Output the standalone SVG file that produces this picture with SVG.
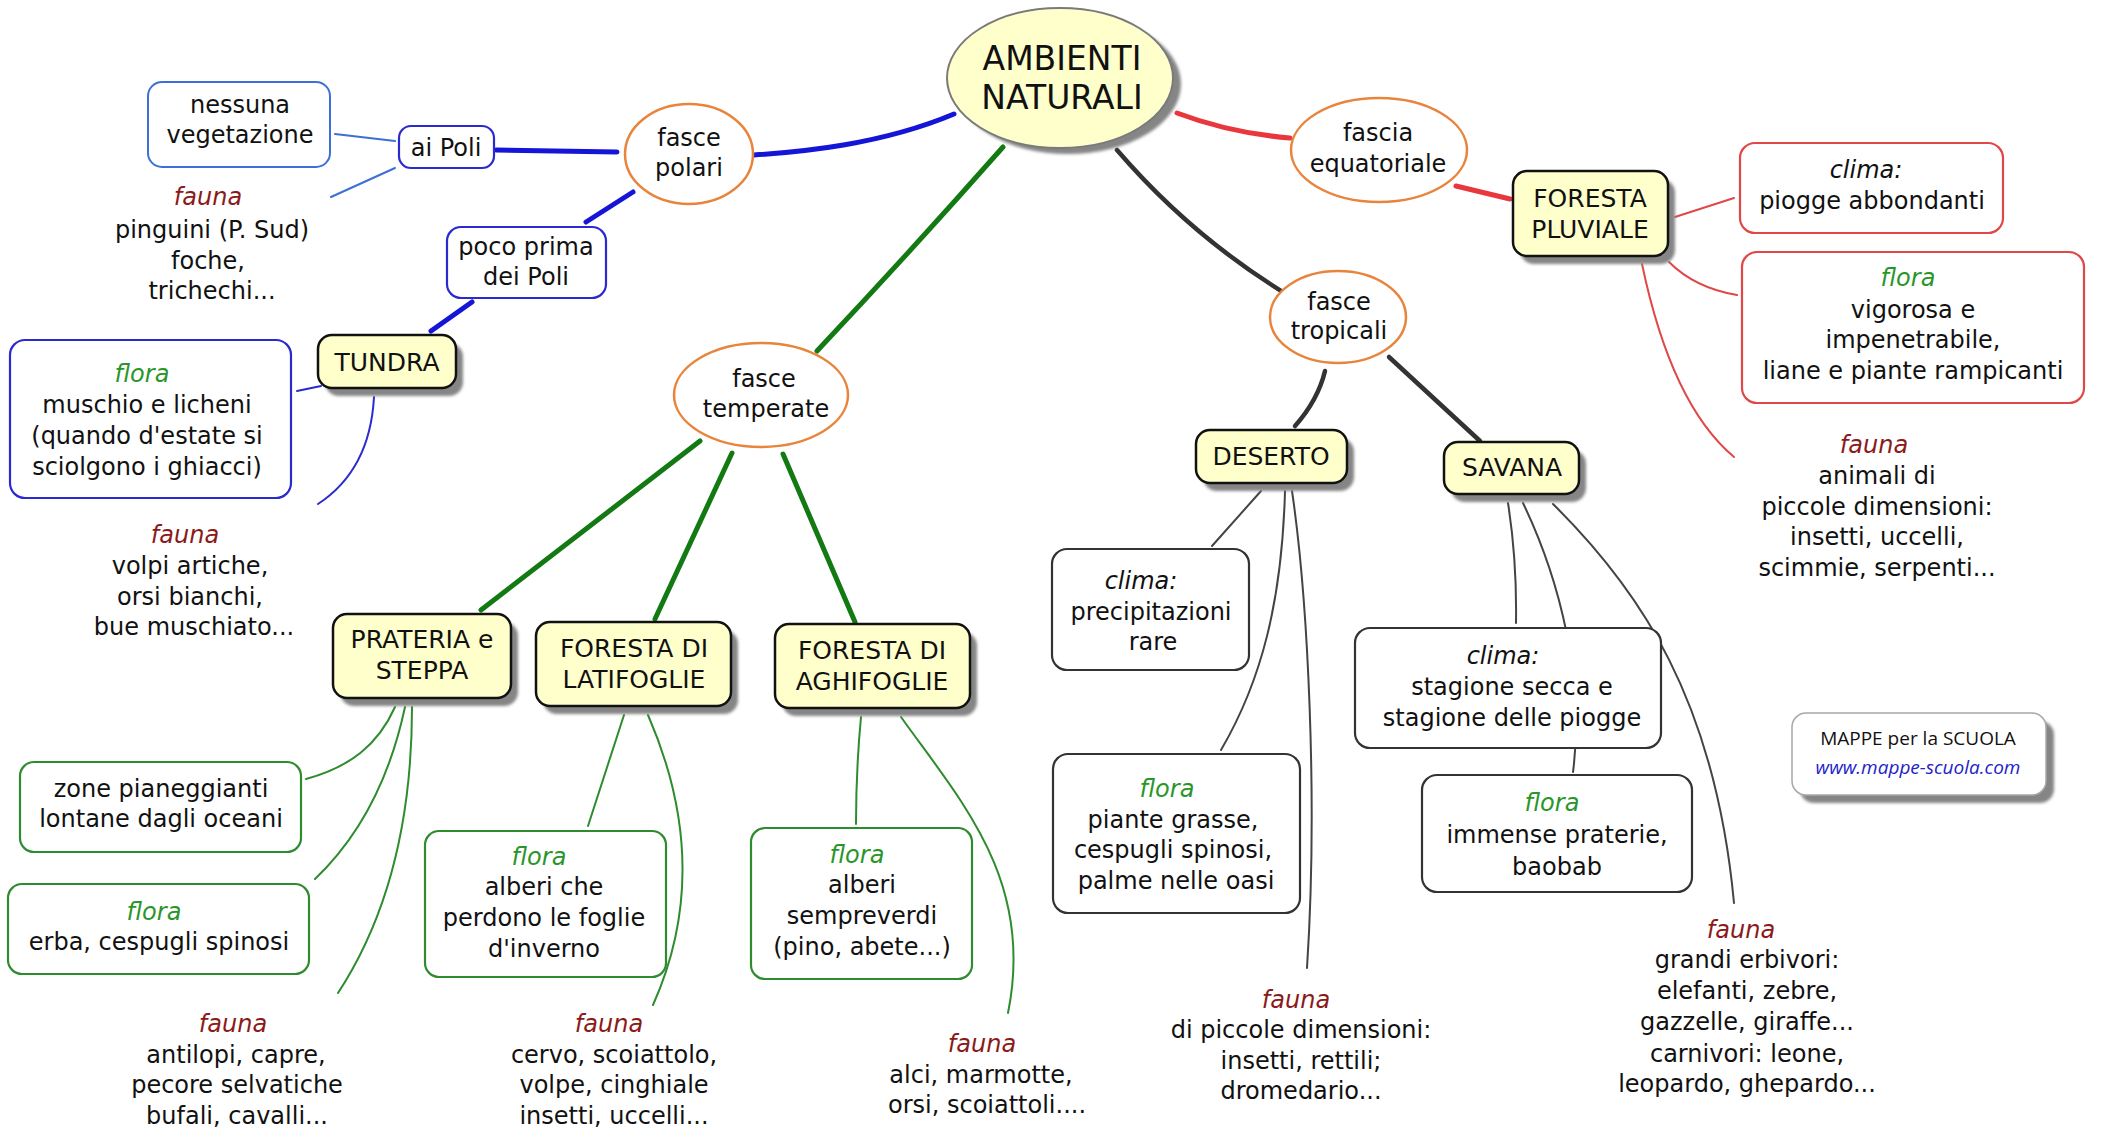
<svg xmlns="http://www.w3.org/2000/svg" width="2102" height="1133" viewBox="0 0 2102 1133">
<defs>
<style>
text{font-family:"DejaVu Sans",Verdana,sans-serif;font-size:24px;fill:#111;text-anchor:middle}
.n{font-size:25px}
.root{font-size:33px}
.it{font-style:italic}
.fa{fill:#8b1a1a;font-style:italic}
.fl{fill:#2a962a;font-style:italic}
.ell{fill:#fff;stroke:#e8843c;stroke-width:2.5}
.yel{fill:#ffffcc;stroke:#111;stroke-width:2.5}
.sh{fill:#858585;filter:url(#blur)}
.bb{fill:#fff;stroke:#2a2ad0;stroke-width:2.2}
.lb{fill:#fff;stroke:#3d6fd6;stroke-width:2}
.gb{fill:#fff;stroke:#2e8b2e;stroke-width:2.2}
.rb{fill:#fff;stroke:#e04848;stroke-width:2.2}
.kb{fill:#fff;stroke:#333;stroke-width:2.2}
.c{fill:none;stroke-linecap:round}
.bT{stroke:#1515d8;stroke-width:5}
.bt{stroke:#3d6fd6;stroke-width:2}
.bm{stroke:#2a2ad0;stroke-width:2}
.gT{stroke:#137a13;stroke-width:5}
.gt{stroke:#2e8b2e;stroke-width:2}
.rT{stroke:#e8383d;stroke-width:5}
.rt{stroke:#e04848;stroke-width:2}
.kT{stroke:#333;stroke-width:4.5}
.kt{stroke:#444;stroke-width:2}
.mp{font-family:"Open Sans","Noto Sans",sans-serif;font-size:19px}
</style>
<filter id="blur" x="-10%" y="-10%" width="120%" height="120%"><feGaussianBlur stdDeviation="1.5"/></filter>
</defs>
<rect width="2102" height="1133" fill="#fff"/>

<g id="connectors">
<path class="c bT" d="M954,114 C880,145 800,152 754,155"/>
<path class="c bT" d="M617,152 L496,150"/>
<path class="c bT" d="M633,192 L586,222"/>
<path class="c bT" d="M472,302 L431,331"/>
<path class="c bt" d="M395,141 L335,134"/>
<path class="c bt" d="M395,168 L331,197"/>
<path class="c bm" d="M321,386 L297,391"/>
<path class="c bm" d="M374,397 Q370,470 318,504"/>

<path class="c gT" d="M1003,147 Q912,250 817,351"/>
<path class="c gT" d="M700,441 L481,610"/>
<path class="c gT" d="M732,453 L655,619"/>
<path class="c gT" d="M783,454 L855,622"/>
<path class="c gt" d="M395,707 C378,745 350,767 306,779"/>
<path class="c gt" d="M405,707 Q382,815 315,879"/>
<path class="c gt" d="M412,707 Q412,880 338,993"/>
<path class="c gt" d="M624,715 L588,826"/>
<path class="c gt" d="M648,715 C685,800 700,900 653,1005"/>
<path class="c gt" d="M861,717 Q856,770 856,824"/>
<path class="c gt" d="M901,717 C960,800 1035,880 1008,1013"/>

<path class="c rT" d="M1177,113 Q1230,133 1290,138"/>
<path class="c rT" d="M1456,186 L1510,199"/>
<path class="c rt" d="M1675,217 L1734,198"/>
<path class="c rt" d="M1669,262 Q1695,288 1737,295"/>
<path class="c rt" d="M1642,264 C1660,350 1690,420 1734,457"/>

<path class="c kT" d="M1117,150 Q1190,235 1286,294"/>
<path class="c kT" d="M1325,371 Q1318,400 1295,426"/>
<path class="c kT" d="M1389,357 L1480,441"/>
<path class="c kt" d="M1261,491 L1212,546"/>
<path class="c kt" d="M1285,491 C1282,600 1262,680 1221,750"/>
<path class="c kt" d="M1292,491 C1308,600 1318,800 1307,968"/>
<path class="c kt" d="M1508,503 Q1517,560 1516,623"/>
<path class="c kt" d="M1523,503 C1560,580 1585,680 1573,772"/>
<path class="c kt" d="M1553,504 C1640,590 1715,700 1734,903"/>
</g>

<g id="root">
<ellipse class="sh" cx="1068" cy="84" rx="113" ry="70"/>
<ellipse cx="1060" cy="78" rx="113" ry="70" fill="#ffffcc" stroke="#7a7a7a" stroke-width="2"/>
<text class="root" x="1062" y="70">AMBIENTI</text>
<text class="root" x="1062" y="109">NATURALI</text>
</g>

<g id="fasce-polari">
<ellipse class="ell" cx="689" cy="154" rx="64" ry="50"/>
<text x="689" y="146">fasce</text>
<text x="689" y="176">polari</text>
</g>
<g id="ai-poli">
<rect class="bb" x="399" y="126" width="95" height="42" rx="12"/>
<text x="446" y="156">ai Poli</text>
</g>
<g id="nessuna-vegetazione">
<rect class="lb" x="148" y="82" width="182" height="85" rx="14"/>
<text x="240" y="113">nessuna</text>
<text x="240" y="143">vegetazione</text>
</g>
<g id="fauna-poli">
<text class="fa" x="208" y="205">fauna</text>
<text x="212" y="238">pinguini (P. Sud)</text>
<text x="208" y="269">foche,</text>
<text x="212" y="299">trichechi...</text>
</g>
<g id="poco-prima">
<rect class="bb" x="447" y="227" width="159" height="71" rx="14"/>
<text x="526" y="255">poco prima</text>
<text x="526" y="285">dei Poli</text>
</g>
<g id="tundra">
<rect class="sh" x="325" y="343" width="138" height="53" rx="14"/>
<rect class="yel" x="318" y="335" width="138" height="53" rx="14"/>
<text class="n" x="387" y="371">TUNDRA</text>
</g>
<g id="tundra-flora">
<rect class="bb" x="10" y="340" width="281" height="158" rx="15"/>
<text class="fl" x="142" y="382">flora</text>
<text x="147" y="413">muschio e licheni</text>
<text x="147" y="444">(quando d'estate si</text>
<text x="147" y="475">sciolgono i ghiacci)</text>
</g>
<g id="tundra-fauna">
<text class="fa" x="185" y="543">fauna</text>
<text x="190" y="574">volpi artiche,</text>
<text x="190" y="605">orsi bianchi,</text>
<text x="194" y="635">bue muschiato...</text>
</g>

<g id="fasce-temperate">
<ellipse class="ell" cx="761" cy="395" rx="87" ry="52"/>
<text x="764" y="387">fasce</text>
<text x="766" y="417">temperate</text>
</g>
<g id="prateria">
<rect class="sh" x="340" y="622" width="178" height="84" rx="14"/>
<rect class="yel" x="333" y="614" width="178" height="84" rx="14"/>
<text class="n" x="422" y="648">PRATERIA e</text>
<text class="n" x="422" y="679">STEPPA</text>
</g>
<g id="prateria-zone">
<rect class="gb" x="20" y="762" width="281" height="90" rx="14"/>
<text x="161" y="797">zone pianeggianti</text>
<text x="161" y="827">lontane dagli oceani</text>
</g>
<g id="prateria-flora">
<rect class="gb" x="8" y="884" width="301" height="90" rx="14"/>
<text class="fl" x="154" y="920">flora</text>
<text x="159" y="950">erba, cespugli spinosi</text>
</g>
<g id="prateria-fauna">
<text class="fa" x="233" y="1032">fauna</text>
<text x="236" y="1063">antilopi, capre,</text>
<text x="237" y="1093">pecore selvatiche</text>
<text x="237" y="1124">bufali, cavalli...</text>
</g>
<g id="latifoglie">
<rect class="sh" x="543" y="630" width="195" height="84" rx="14"/>
<rect class="yel" x="536" y="622" width="195" height="84" rx="14"/>
<text class="n" x="634" y="657">FORESTA DI</text>
<text class="n" x="634" y="688">LATIFOGLIE</text>
</g>
<g id="latifoglie-flora">
<rect class="gb" x="425" y="831" width="241" height="146" rx="14"/>
<text class="fl" x="539" y="865">flora</text>
<text x="544" y="895">alberi che</text>
<text x="544" y="926">perdono le foglie</text>
<text x="544" y="957">d'inverno</text>
</g>
<g id="latifoglie-fauna">
<text class="fa" x="609" y="1032">fauna</text>
<text x="614" y="1063">cervo, scoiattolo,</text>
<text x="614" y="1093">volpe, cinghiale</text>
<text x="614" y="1124">insetti, uccelli...</text>
</g>
<g id="aghifoglie">
<rect class="sh" x="782" y="632" width="195" height="84" rx="14"/>
<rect class="yel" x="775" y="624" width="195" height="84" rx="14"/>
<text class="n" x="872" y="659">FORESTA DI</text>
<text class="n" x="872" y="690">AGHIFOGLIE</text>
</g>
<g id="aghifoglie-flora">
<rect class="gb" x="751" y="828" width="221" height="151" rx="14"/>
<text class="fl" x="857" y="863">flora</text>
<text x="862" y="893">alberi</text>
<text x="862" y="924">sempreverdi</text>
<text x="862" y="955">(pino, abete...)</text>
</g>
<g id="aghifoglie-fauna">
<text class="fa" x="982" y="1052">fauna</text>
<text x="981" y="1083">alci, marmotte,</text>
<text x="987" y="1113">orsi, scoiattoli....</text>
</g>

<g id="fascia-equatoriale">
<ellipse class="ell" cx="1379" cy="150" rx="88" ry="52"/>
<text x="1378" y="141">fascia</text>
<text x="1378" y="172">equatoriale</text>
</g>
<g id="foresta-pluviale">
<rect class="sh" x="1520" y="179" width="155" height="85" rx="14"/>
<rect class="yel" x="1513" y="171" width="155" height="85" rx="14"/>
<text class="n" x="1590" y="207">FORESTA</text>
<text class="n" x="1590" y="238">PLUVIALE</text>
</g>
<g id="pluviale-clima">
<rect class="rb" x="1740" y="143" width="263" height="90" rx="15"/>
<text class="it" x="1866" y="178">clima:</text>
<text x="1872" y="209">piogge abbondanti</text>
</g>
<g id="pluviale-flora">
<rect class="rb" x="1742" y="252" width="342" height="151" rx="15"/>
<text class="fl" x="1908" y="286">flora</text>
<text x="1913" y="318">vigorosa e</text>
<text x="1913" y="348">impenetrabile,</text>
<text x="1913" y="379">liane e piante rampicanti</text>
</g>
<g id="pluviale-fauna">
<text class="fa" x="1874" y="453">fauna</text>
<text x="1877" y="484">animali di</text>
<text x="1877" y="515">piccole dimensioni:</text>
<text x="1877" y="545">insetti, uccelli,</text>
<text x="1877" y="576">scimmie, serpenti...</text>
</g>

<g id="fasce-tropicali">
<ellipse class="ell" cx="1338" cy="317" rx="68" ry="46"/>
<text x="1339" y="310">fasce</text>
<text x="1339" y="339">tropicali</text>
</g>
<g id="deserto">
<rect class="sh" x="1203" y="438" width="151" height="53" rx="14"/>
<rect class="yel" x="1196" y="430" width="151" height="53" rx="14"/>
<text class="n" x="1271" y="465">DESERTO</text>
</g>
<g id="deserto-clima">
<rect class="kb" x="1052" y="549" width="197" height="121" rx="15"/>
<text class="it" x="1141" y="589">clima:</text>
<text x="1151" y="620">precipitazioni</text>
<text x="1153" y="650">rare</text>
</g>
<g id="deserto-flora">
<rect class="kb" x="1053" y="754" width="247" height="159" rx="15"/>
<text class="fl" x="1167" y="797">flora</text>
<text x="1173" y="828">piante grasse,</text>
<text x="1173" y="858">cespugli spinosi,</text>
<text x="1176" y="889">palme nelle oasi</text>
</g>
<g id="deserto-fauna">
<text class="fa" x="1296" y="1008">fauna</text>
<text x="1301" y="1038">di piccole dimensioni:</text>
<text x="1301" y="1069">insetti, rettili;</text>
<text x="1301" y="1099">dromedario...</text>
</g>
<g id="savana">
<rect class="sh" x="1451" y="450" width="135" height="52" rx="14"/>
<rect class="yel" x="1444" y="442" width="135" height="52" rx="14"/>
<text class="n" x="1512" y="476">SAVANA</text>
</g>
<g id="savana-clima">
<rect class="kb" x="1355" y="628" width="306" height="120" rx="15"/>
<text class="it" x="1503" y="664">clima:</text>
<text x="1512" y="695">stagione secca e</text>
<text x="1512" y="726">stagione delle piogge</text>
</g>
<g id="savana-flora">
<rect class="kb" x="1422" y="775" width="270" height="117" rx="15"/>
<text class="fl" x="1552" y="811">flora</text>
<text x="1557" y="843">immense praterie,</text>
<text x="1557" y="875">baobab</text>
</g>
<g id="savana-fauna">
<text class="fa" x="1741" y="938">fauna</text>
<text x="1747" y="968">grandi erbivori:</text>
<text x="1747" y="999">elefanti, zebre,</text>
<text x="1747" y="1030">gazzelle, giraffe...</text>
<text x="1747" y="1062">carnivori: leone,</text>
<text x="1747" y="1092">leopardo, ghepardo...</text>
</g>

<g id="mappe">
<rect class="sh" x="1800" y="721" width="254" height="82" rx="14"/>
<rect x="1792" y="713" width="254" height="82" rx="14" fill="#fff" stroke="#a8a8a8" stroke-width="1.5"/>
<text class="mp" x="1918" y="745">MAPPE per la SCUOLA</text>
<text class="mp" x="1918" y="774" style="fill:#2323c8;font-style:italic">www.mappe-scuola.com</text>
</g>
</svg>
